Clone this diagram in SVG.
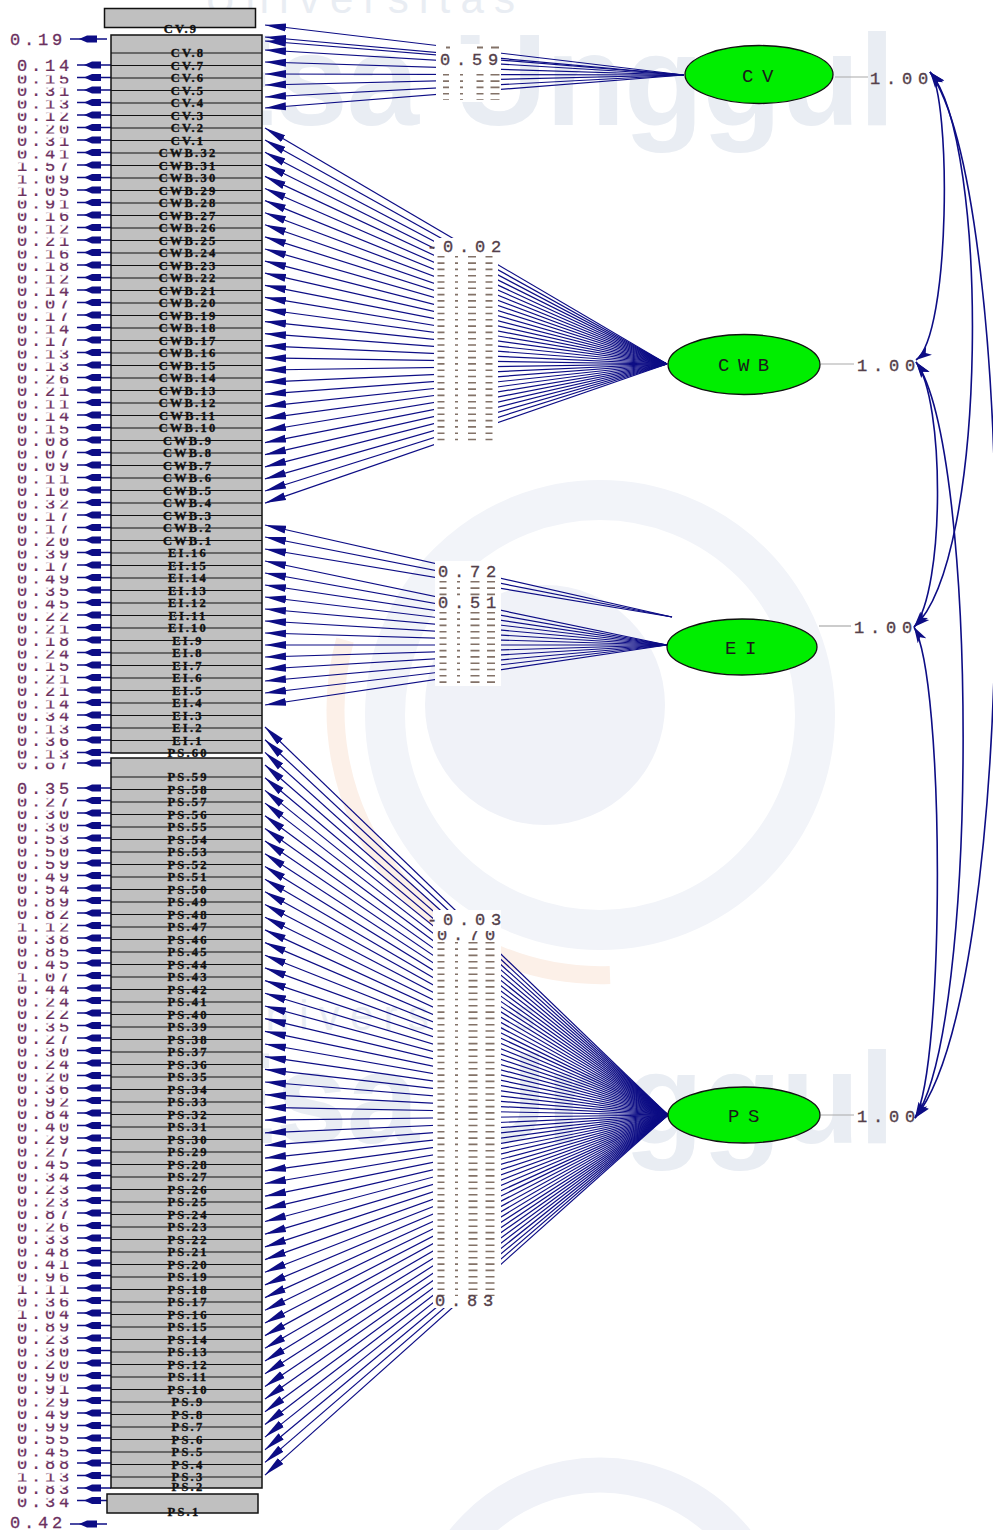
<svg xmlns="http://www.w3.org/2000/svg" xmlns:xlink="http://www.w3.org/1999/xlink" width="993" height="1530" viewBox="0 0 993 1530">
<style>
.ld line{stroke:#0d0d85;stroke-width:1.2;marker-end:url(#ah)}
.arc{fill:none;stroke:#0d0d85;stroke-width:1.6;marker-start:url(#ah2);marker-end:url(#ah2)}
.bx{fill:#c0c0c0;stroke:#111;stroke-width:1.5}
.rl{stroke:#111;stroke-width:1;fill:none}
.bl{font-family:"Liberation Serif",serif;font-weight:bold;font-size:12.5px;letter-spacing:2.2px;fill:#111;stroke:#111;stroke-width:0.35px;text-anchor:middle}
.en{font-family:"Liberation Mono",monospace;font-size:17px;letter-spacing:3.8px;fill:#6b3060;stroke:#6b3060;stroke-width:0.3px}
.lv{font-family:"Liberation Mono",monospace;font-size:17px;letter-spacing:5.8px;fill:#54404a;stroke:#54404a;stroke-width:0.35px}
.lat{fill:#00ee00;stroke:#111;stroke-width:1.3}
.ln{font-family:"Liberation Mono",monospace;font-size:19px;letter-spacing:8.5px;fill:#1a1a1a}
.vl{stroke:#aaa;stroke-width:1.2}
.gap{fill:#fff}
.ds{stroke:#6e5a4e;stroke-dasharray:1.6 4.7;opacity:.85}
.wm{font-family:"Liberation Sans",sans-serif;fill:#e9edf3}
</style>
<defs>
<marker id="ah" markerUnits="userSpaceOnUse" markerWidth="22" markerHeight="10" refX="21" refY="5" orient="auto"><path d="M0,1 L21,5 L0,9 z" fill="#0d0d85"/></marker>
<marker id="ah2" markerUnits="userSpaceOnUse" markerWidth="17" markerHeight="11" refX="16" refY="5.5" orient="auto-start-reverse"><path d="M0,0.5 L16,5.5 L0,10.5 L4,5.5 z" fill="#0d0d85"/></marker>
<g id="e"><path d="M77,0 H111" stroke="#0d0d85" stroke-width="1.3"/><path d="M84,0 L92,-3.5 L101,-3.5 L101,3.5 L92,3.5 z" fill="#0d0d85"/></g>
<g id="e2"><path d="M70,0 H107" stroke="#0d0d85" stroke-width="1.3"/><path d="M79,0 L87,-3.5 L97,-3.5 L97,3.5 L87,3.5 z" fill="#0d0d85"/></g>
<pattern id="band1" patternUnits="userSpaceOnUse" x="0" y="58.5" width="100" height="12.5"><rect x="0" y="0" width="100" height="4.5" fill="#fff"/></pattern>
<pattern id="band2" patternUnits="userSpaceOnUse" x="0" y="781.5" width="100" height="12.5"><rect x="0" y="0" width="100" height="4.5" fill="#fff"/></pattern>
<clipPath id="c70"><rect x="430" y="931" width="75" height="12"/></clipPath>
</defs>
<rect width="993" height="1530" fill="#fff"/>
<g id="watermark">
<circle cx="600" cy="715" r="215" fill="none" stroke="#f2f4f9" stroke-width="40"/>
<circle cx="545" cy="705" r="120" fill="#f0f2f8"/>
<path d="M345,640 A265,265 0 0 0 610,975" fill="none" stroke="#fcf0e8" stroke-width="18"/>
<circle cx="600" cy="1650" r="175" fill="none" stroke="#f0f2f8" stroke-width="35"/>
<text class="wm" x="205" y="13" font-size="42" textLength="310">Universitas</text>
<text class="wm" x="190" y="125" font-size="130" font-weight="bold" textLength="705">Esa Unggul</text>
<text class="wm" x="225" y="1030" font-size="42" textLength="310">Universitas</text>
<text class="wm" x="190" y="1143" font-size="130" font-weight="bold" textLength="705">Esa Unggul</text>
</g>
<g id="connectors">
<g class="ld" id="load-CV">
<line x1="684" y1="75" x2="265" y2="25"/><line x1="684" y1="75" x2="265" y2="37"/><line x1="684" y1="75" x2="265" y2="41"/><line x1="684" y1="75" x2="265" y2="50"/><line x1="684" y1="75" x2="265" y2="62"/><line x1="684" y1="75" x2="265" y2="74"/><line x1="684" y1="75" x2="265" y2="85"/><line x1="684" y1="75" x2="265" y2="97"/><line x1="684" y1="75" x2="265" y2="108"/>
</g>
<g class="ld" id="load-CWB">
<line x1="667" y1="364" x2="265" y2="128"/><line x1="667" y1="364" x2="265" y2="140.1"/><line x1="667" y1="364" x2="265" y2="152.2"/><line x1="667" y1="364" x2="265" y2="164.3"/><line x1="667" y1="364" x2="265" y2="176.4"/><line x1="667" y1="364" x2="265" y2="188.5"/><line x1="667" y1="364" x2="265" y2="200.6"/><line x1="667" y1="364" x2="265" y2="212.7"/><line x1="667" y1="364" x2="265" y2="224.8"/><line x1="667" y1="364" x2="265" y2="236.9"/><line x1="667" y1="364" x2="265" y2="249"/><line x1="667" y1="364" x2="265" y2="261.1"/><line x1="667" y1="364" x2="265" y2="273.2"/><line x1="667" y1="364" x2="265" y2="285.3"/><line x1="667" y1="364" x2="265" y2="297.4"/><line x1="667" y1="364" x2="265" y2="309.5"/><line x1="667" y1="364" x2="265" y2="321.6"/><line x1="667" y1="364" x2="265" y2="333.7"/><line x1="667" y1="364" x2="265" y2="345.8"/><line x1="667" y1="364" x2="265" y2="357.9"/><line x1="667" y1="364" x2="265" y2="370"/><line x1="667" y1="364" x2="265" y2="382.1"/><line x1="667" y1="364" x2="265" y2="394.2"/><line x1="667" y1="364" x2="265" y2="406.3"/><line x1="667" y1="364" x2="265" y2="418.4"/><line x1="667" y1="364" x2="265" y2="430.5"/><line x1="667" y1="364" x2="265" y2="442.6"/><line x1="667" y1="364" x2="265" y2="454.7"/><line x1="667" y1="364" x2="265" y2="466.8"/><line x1="667" y1="364" x2="265" y2="478.9"/><line x1="667" y1="364" x2="265" y2="491"/><line x1="667" y1="364" x2="265" y2="503.1"/>
</g>
<g class="ld" id="load-EI">
<line x1="672" y1="617" x2="265" y2="525"/><line x1="672" y1="617" x2="265" y2="537"/><line x1="672" y1="617" x2="265" y2="549"/><line x1="667" y1="645" x2="265" y2="561"/><line x1="667" y1="645" x2="265" y2="573"/><line x1="667" y1="645" x2="265" y2="585"/><line x1="667" y1="645" x2="265" y2="597"/><line x1="667" y1="645" x2="265" y2="609"/><line x1="667" y1="645" x2="265" y2="621"/><line x1="667" y1="645" x2="265" y2="633"/><line x1="667" y1="645" x2="265" y2="645"/><line x1="667" y1="645" x2="265" y2="657"/><line x1="667" y1="645" x2="265" y2="669"/><line x1="667" y1="645" x2="265" y2="681"/><line x1="667" y1="645" x2="265" y2="693"/><line x1="667" y1="645" x2="265" y2="705"/>
</g>
<g class="ld" id="load-PS">
<line x1="668" y1="1115" x2="265" y2="727"/><line x1="668" y1="1115" x2="265" y2="739.7"/><line x1="668" y1="1115" x2="265" y2="752.4"/><line x1="668" y1="1115" x2="265" y2="765"/><line x1="668" y1="1115" x2="265" y2="777.7"/><line x1="668" y1="1115" x2="265" y2="790.4"/><line x1="668" y1="1115" x2="265" y2="803.1"/><line x1="668" y1="1115" x2="265" y2="815.8"/><line x1="668" y1="1115" x2="265" y2="828.4"/><line x1="668" y1="1115" x2="265" y2="841.1"/><line x1="668" y1="1115" x2="265" y2="853.8"/><line x1="668" y1="1115" x2="265" y2="866.5"/><line x1="668" y1="1115" x2="265" y2="879.2"/><line x1="668" y1="1115" x2="265" y2="891.8"/><line x1="668" y1="1115" x2="265" y2="904.5"/><line x1="668" y1="1115" x2="265" y2="917.2"/><line x1="668" y1="1115" x2="265" y2="929.9"/><line x1="668" y1="1115" x2="265" y2="942.6"/><line x1="668" y1="1115" x2="265" y2="955.2"/><line x1="668" y1="1115" x2="265" y2="967.9"/><line x1="668" y1="1115" x2="265" y2="980.6"/><line x1="668" y1="1115" x2="265" y2="993.3"/><line x1="668" y1="1115" x2="265" y2="1006"/><line x1="668" y1="1115" x2="265" y2="1018.6"/><line x1="668" y1="1115" x2="265" y2="1031.3"/><line x1="668" y1="1115" x2="265" y2="1044"/><line x1="668" y1="1115" x2="265" y2="1056.7"/><line x1="668" y1="1115" x2="265" y2="1069.4"/><line x1="668" y1="1115" x2="265" y2="1082"/><line x1="668" y1="1115" x2="265" y2="1094.7"/><line x1="668" y1="1115" x2="265" y2="1107.4"/><line x1="668" y1="1115" x2="265" y2="1120.1"/><line x1="668" y1="1115" x2="265" y2="1132.8"/><line x1="668" y1="1115" x2="265" y2="1145.4"/><line x1="668" y1="1115" x2="265" y2="1158.1"/><line x1="668" y1="1115" x2="265" y2="1170.8"/><line x1="668" y1="1115" x2="265" y2="1183.5"/><line x1="668" y1="1115" x2="265" y2="1196.2"/><line x1="668" y1="1115" x2="265" y2="1208.8"/><line x1="668" y1="1115" x2="265" y2="1221.5"/><line x1="668" y1="1115" x2="265" y2="1234.2"/><line x1="668" y1="1115" x2="265" y2="1246.9"/><line x1="668" y1="1115" x2="265" y2="1259.6"/><line x1="668" y1="1115" x2="265" y2="1272.2"/><line x1="668" y1="1115" x2="265" y2="1284.9"/><line x1="668" y1="1115" x2="265" y2="1297.6"/><line x1="668" y1="1115" x2="265" y2="1310.3"/><line x1="668" y1="1115" x2="265" y2="1323"/><line x1="668" y1="1115" x2="265" y2="1335.6"/><line x1="668" y1="1115" x2="265" y2="1348.3"/><line x1="668" y1="1115" x2="265" y2="1361"/><line x1="668" y1="1115" x2="265" y2="1373.7"/><line x1="668" y1="1115" x2="265" y2="1386.4"/><line x1="668" y1="1115" x2="265" y2="1399"/><line x1="668" y1="1115" x2="265" y2="1411.7"/><line x1="668" y1="1115" x2="265" y2="1424.4"/><line x1="668" y1="1115" x2="265" y2="1437.1"/><line x1="668" y1="1115" x2="265" y2="1449.8"/><line x1="668" y1="1115" x2="265" y2="1462.4"/><line x1="668" y1="1115" x2="265" y2="1475.1"/>
</g>
<g id="covariances">
<path class="arc" d="M930,72 C951,95 951,335 916,360"/>
<path class="arc" d="M930,72 C989,140 989,560 914,627"/>
<path class="arc" d="M930,72 C1020,200 1020,990 915,1118"/>
<path class="arc" d="M916,362 C945,400 945,590 914,627"/>
<path class="arc" d="M916,362 C979,450 979,1030 915,1118"/>
<path class="arc" d="M914,627 C945,680 945,1065 915,1118"/>
</g>
<g id="variance-lines">
<line class="vl" x1="835" y1="77" x2="868" y2="77"/>
<line class="vl" x1="821" y1="364" x2="854" y2="364"/>
<line class="vl" x1="819" y1="626" x2="851" y2="626"/>
<line class="vl" x1="821" y1="1115" x2="854" y2="1115"/>
</g>
<g id="error-arrows">
<use href="#e2" y="39"/>
<use href="#e" y="65"/><use href="#e" y="77.5"/><use href="#e" y="90"/><use href="#e" y="102.5"/><use href="#e" y="115"/><use href="#e" y="127.5"/><use href="#e" y="140"/><use href="#e" y="152.5"/><use href="#e" y="165"/><use href="#e" y="177.5"/><use href="#e" y="190"/><use href="#e" y="202.5"/><use href="#e" y="215"/><use href="#e" y="227.5"/><use href="#e" y="240"/><use href="#e" y="252.5"/><use href="#e" y="265"/><use href="#e" y="277.5"/><use href="#e" y="290"/><use href="#e" y="302.5"/><use href="#e" y="315"/><use href="#e" y="327.5"/><use href="#e" y="340"/><use href="#e" y="352.5"/><use href="#e" y="365"/><use href="#e" y="377.5"/><use href="#e" y="390"/><use href="#e" y="402.5"/><use href="#e" y="415"/><use href="#e" y="427.5"/><use href="#e" y="440"/><use href="#e" y="452.5"/><use href="#e" y="465"/><use href="#e" y="477.5"/><use href="#e" y="490"/><use href="#e" y="502.5"/><use href="#e" y="515"/><use href="#e" y="527.5"/><use href="#e" y="540"/><use href="#e" y="552.5"/><use href="#e" y="565"/><use href="#e" y="577.5"/><use href="#e" y="590"/><use href="#e" y="602.5"/><use href="#e" y="615"/><use href="#e" y="627.5"/><use href="#e" y="640"/><use href="#e" y="652.5"/><use href="#e" y="665"/><use href="#e" y="677.5"/><use href="#e" y="690"/><use href="#e" y="702.5"/><use href="#e" y="715"/><use href="#e" y="727.5"/><use href="#e" y="740"/><use href="#e" y="752.5"/>
<use href="#e" y="763"/>
<use href="#e" y="788"/><use href="#e" y="800.5"/><use href="#e" y="813"/><use href="#e" y="825.5"/><use href="#e" y="838"/><use href="#e" y="850.5"/><use href="#e" y="863"/><use href="#e" y="875.5"/><use href="#e" y="888"/><use href="#e" y="900.5"/><use href="#e" y="913"/><use href="#e" y="925.5"/><use href="#e" y="938"/><use href="#e" y="950.5"/><use href="#e" y="963"/><use href="#e" y="975.5"/><use href="#e" y="988"/><use href="#e" y="1000.5"/><use href="#e" y="1013"/><use href="#e" y="1025.5"/><use href="#e" y="1038"/><use href="#e" y="1050.5"/><use href="#e" y="1063"/><use href="#e" y="1075.5"/><use href="#e" y="1088"/><use href="#e" y="1100.5"/><use href="#e" y="1113"/><use href="#e" y="1125.5"/><use href="#e" y="1138"/><use href="#e" y="1150.5"/><use href="#e" y="1163"/><use href="#e" y="1175.5"/><use href="#e" y="1188"/><use href="#e" y="1200.5"/><use href="#e" y="1213"/><use href="#e" y="1225.5"/><use href="#e" y="1238"/><use href="#e" y="1250.5"/><use href="#e" y="1263"/><use href="#e" y="1275.5"/><use href="#e" y="1288"/><use href="#e" y="1300.5"/><use href="#e" y="1313"/><use href="#e" y="1325.5"/><use href="#e" y="1338"/><use href="#e" y="1350.5"/><use href="#e" y="1363"/><use href="#e" y="1375.5"/><use href="#e" y="1388"/><use href="#e" y="1400.5"/><use href="#e" y="1413"/><use href="#e" y="1425.5"/><use href="#e" y="1438"/><use href="#e" y="1450.5"/><use href="#e" y="1463"/><use href="#e" y="1475.5"/><use href="#e" y="1488"/><use href="#e" y="1500.5"/>
<use href="#e2" y="1524"/>
</g>
</g>
<g id="loading-labels">
<rect class="gap" x="436" y="44" width="65" height="58"/>
<rect class="gap" x="434" y="238" width="64" height="210"/>
<rect class="gap" x="435" y="561" width="66" height="125"/>
<rect class="gap" x="433" y="910" width="68" height="398"/>
<g class="ds">
<line x1="448" y1="46.5" x2="448" y2="48.5" stroke-width="4" stroke-dasharray="none"/><line x1="480" y1="46.5" x2="480" y2="48.5" stroke-width="6" stroke-dasharray="none"/><line x1="495" y1="46.5" x2="495" y2="48.5" stroke-width="8" stroke-dasharray="none"/>
<line x1="446" y1="74" x2="446" y2="100" stroke-width="6"/><line x1="461.5" y1="74" x2="461.5" y2="100" stroke-width="3"/><line x1="480" y1="74" x2="480" y2="100" stroke-width="7"/><line x1="495" y1="74" x2="495" y2="100" stroke-width="9"/>
<line x1="441" y1="256" x2="441" y2="445" stroke-width="7"/><line x1="456.5" y1="256" x2="456.5" y2="445" stroke-width="3"/><line x1="472" y1="256" x2="472" y2="445" stroke-width="8"/><line x1="489" y1="256" x2="489" y2="445" stroke-width="7"/>
<line x1="443" y1="581" x2="443" y2="598" stroke-width="7"/><line x1="458.5" y1="581" x2="458.5" y2="598" stroke-width="3"/><line x1="475" y1="581" x2="475" y2="598" stroke-width="9"/><line x1="491" y1="581" x2="491" y2="598" stroke-width="8"/>
<line x1="443" y1="612" x2="443" y2="685" stroke-width="7"/><line x1="458.5" y1="612" x2="458.5" y2="685" stroke-width="3"/><line x1="475" y1="612" x2="475" y2="685" stroke-width="9"/><line x1="491" y1="612" x2="491" y2="685" stroke-width="8"/>
<line x1="441" y1="942" x2="441" y2="1296" stroke-width="7"/><line x1="456.5" y1="942" x2="456.5" y2="1296" stroke-width="3"/><line x1="473" y1="942" x2="473" y2="1296" stroke-width="9"/><line x1="490" y1="942" x2="490" y2="1296" stroke-width="9"/>
</g>
<text class="lv" x="440" y="65">0.59</text>
<text class="lv" x="427" y="252">-0.02</text>
<text class="lv" x="438" y="577">0.72</text>
<text class="lv" x="438" y="608">0.51</text>
<text class="lv" x="427" y="925">-0.03</text>
<text class="lv" x="437" y="940" clip-path="url(#c70)">0.70</text>
<text class="lv" x="435" y="1306">0.83</text>
</g>
<g id="box-CV9">
<rect class="bx" x="104.5" y="8.5" width="151" height="19"/>
<text class="bl" x="181" y="33">CV.9</text>
</g>
<g id="box-main1">
<rect class="bx" x="111" y="35" width="151" height="718"/>
<path class="rl" d="M111,53H262M111,65.5H262M111,78H262M111,90.5H262M111,103H262M111,115.5H262M111,128H262M111,140.5H262M111,153H262M111,165.5H262M111,178H262M111,190.5H262M111,203H262M111,215.5H262M111,228H262M111,240.5H262M111,253H262M111,265.5H262M111,278H262M111,290.5H262M111,303H262M111,315.5H262M111,328H262M111,340.5H262M111,353H262M111,365.5H262M111,378H262M111,390.5H262M111,403H262M111,415.5H262M111,428H262M111,440.5H262M111,453H262M111,465.5H262M111,478H262M111,490.5H262M111,503H262M111,515.5H262M111,528H262M111,540.5H262M111,553H262M111,565.5H262M111,578H262M111,590.5H262M111,603H262M111,615.5H262M111,628H262M111,640.5H262M111,653H262M111,665.5H262M111,678H262M111,690.5H262M111,703H262M111,715.5H262M111,728H262M111,740.5H262"/>
<text class="bl" x="188" y="57">CV.8</text><text class="bl" x="188" y="69.5">CV.7</text><text class="bl" x="188" y="82">CV.6</text><text class="bl" x="188" y="94.5">CV.5</text><text class="bl" x="188" y="107">CV.4</text><text class="bl" x="188" y="119.5">CV.3</text><text class="bl" x="188" y="132">CV.2</text><text class="bl" x="188" y="144.5">CV.1</text>
<text class="bl" x="188" y="157">CWB.32</text><text class="bl" x="188" y="169.5">CWB.31</text><text class="bl" x="188" y="182">CWB.30</text><text class="bl" x="188" y="194.5">CWB.29</text><text class="bl" x="188" y="207">CWB.28</text><text class="bl" x="188" y="219.5">CWB.27</text><text class="bl" x="188" y="232">CWB.26</text><text class="bl" x="188" y="244.5">CWB.25</text><text class="bl" x="188" y="257">CWB.24</text><text class="bl" x="188" y="269.5">CWB.23</text><text class="bl" x="188" y="282">CWB.22</text><text class="bl" x="188" y="294.5">CWB.21</text><text class="bl" x="188" y="307">CWB.20</text><text class="bl" x="188" y="319.5">CWB.19</text><text class="bl" x="188" y="332">CWB.18</text><text class="bl" x="188" y="344.5">CWB.17</text><text class="bl" x="188" y="357">CWB.16</text><text class="bl" x="188" y="369.5">CWB.15</text><text class="bl" x="188" y="382">CWB.14</text><text class="bl" x="188" y="394.5">CWB.13</text><text class="bl" x="188" y="407">CWB.12</text><text class="bl" x="188" y="419.5">CWB.11</text><text class="bl" x="188" y="432">CWB.10</text><text class="bl" x="188" y="444.5">CWB.9</text><text class="bl" x="188" y="457">CWB.8</text><text class="bl" x="188" y="469.5">CWB.7</text><text class="bl" x="188" y="482">CWB.6</text><text class="bl" x="188" y="494.5">CWB.5</text><text class="bl" x="188" y="507">CWB.4</text><text class="bl" x="188" y="519.5">CWB.3</text><text class="bl" x="188" y="532">CWB.2</text><text class="bl" x="188" y="544.5">CWB.1</text>
<text class="bl" x="188" y="557">EI.16</text><text class="bl" x="188" y="569.5">EI.15</text><text class="bl" x="188" y="582">EI.14</text><text class="bl" x="188" y="594.5">EI.13</text><text class="bl" x="188" y="607">EI.12</text><text class="bl" x="188" y="619.5">EI.11</text><text class="bl" x="188" y="632">EI.10</text><text class="bl" x="188" y="644.5">EI.9</text><text class="bl" x="188" y="657">EI.8</text><text class="bl" x="188" y="669.5">EI.7</text><text class="bl" x="188" y="682">EI.6</text><text class="bl" x="188" y="694.5">EI.5</text><text class="bl" x="188" y="707">EI.4</text><text class="bl" x="188" y="719.5">EI.3</text><text class="bl" x="188" y="732">EI.2</text><text class="bl" x="188" y="744.5">EI.1</text>
<text class="bl" x="188" y="757">PS.60</text>
</g>
<g id="box-main2">
<rect class="bx" x="111" y="758" width="151" height="730"/>
<path class="rl" d="M111,777H262M111,789.5H262M111,802H262M111,814.5H262M111,827H262M111,839.5H262M111,852H262M111,864.5H262M111,877H262M111,889.5H262M111,902H262M111,914.5H262M111,927H262M111,939.5H262M111,952H262M111,964.5H262M111,977H262M111,989.5H262M111,1002H262M111,1014.5H262M111,1027H262M111,1039.5H262M111,1052H262M111,1064.5H262M111,1077H262M111,1089.5H262M111,1102H262M111,1114.5H262M111,1127H262M111,1139.5H262M111,1152H262M111,1164.5H262M111,1177H262M111,1189.5H262M111,1202H262M111,1214.5H262M111,1227H262M111,1239.5H262M111,1252H262M111,1264.5H262M111,1277H262M111,1289.5H262M111,1302H262M111,1314.5H262M111,1327H262M111,1339.5H262M111,1352H262M111,1364.5H262M111,1377H262M111,1389.5H262M111,1402H262M111,1414.5H262M111,1427H262M111,1439.5H262M111,1452H262M111,1464.5H262M111,1477H262"/>
<text class="bl" x="188" y="781">PS.59</text><text class="bl" x="188" y="793.5">PS.58</text><text class="bl" x="188" y="806">PS.57</text><text class="bl" x="188" y="818.5">PS.56</text><text class="bl" x="188" y="831">PS.55</text><text class="bl" x="188" y="843.5">PS.54</text><text class="bl" x="188" y="856">PS.53</text><text class="bl" x="188" y="868.5">PS.52</text><text class="bl" x="188" y="881">PS.51</text><text class="bl" x="188" y="893.5">PS.50</text><text class="bl" x="188" y="906">PS.49</text><text class="bl" x="188" y="918.5">PS.48</text><text class="bl" x="188" y="931">PS.47</text><text class="bl" x="188" y="943.5">PS.46</text><text class="bl" x="188" y="956">PS.45</text><text class="bl" x="188" y="968.5">PS.44</text><text class="bl" x="188" y="981">PS.43</text><text class="bl" x="188" y="993.5">PS.42</text><text class="bl" x="188" y="1006">PS.41</text><text class="bl" x="188" y="1018.5">PS.40</text><text class="bl" x="188" y="1031">PS.39</text><text class="bl" x="188" y="1043.5">PS.38</text><text class="bl" x="188" y="1056">PS.37</text><text class="bl" x="188" y="1068.5">PS.36</text><text class="bl" x="188" y="1081">PS.35</text><text class="bl" x="188" y="1093.5">PS.34</text><text class="bl" x="188" y="1106">PS.33</text><text class="bl" x="188" y="1118.5">PS.32</text><text class="bl" x="188" y="1131">PS.31</text><text class="bl" x="188" y="1143.5">PS.30</text><text class="bl" x="188" y="1156">PS.29</text><text class="bl" x="188" y="1168.5">PS.28</text><text class="bl" x="188" y="1181">PS.27</text><text class="bl" x="188" y="1193.5">PS.26</text><text class="bl" x="188" y="1206">PS.25</text><text class="bl" x="188" y="1218.5">PS.24</text><text class="bl" x="188" y="1231">PS.23</text><text class="bl" x="188" y="1243.5">PS.22</text><text class="bl" x="188" y="1256">PS.21</text><text class="bl" x="188" y="1268.5">PS.20</text><text class="bl" x="188" y="1281">PS.19</text><text class="bl" x="188" y="1293.5">PS.18</text><text class="bl" x="188" y="1306">PS.17</text><text class="bl" x="188" y="1318.5">PS.16</text><text class="bl" x="188" y="1331">PS.15</text><text class="bl" x="188" y="1343.5">PS.14</text><text class="bl" x="188" y="1356">PS.13</text><text class="bl" x="188" y="1368.5">PS.12</text><text class="bl" x="188" y="1381">PS.11</text><text class="bl" x="188" y="1393.5">PS.10</text><text class="bl" x="188" y="1406">PS.9</text><text class="bl" x="188" y="1418.5">PS.8</text><text class="bl" x="188" y="1431">PS.7</text><text class="bl" x="188" y="1443.5">PS.6</text><text class="bl" x="188" y="1456">PS.5</text><text class="bl" x="188" y="1468.5">PS.4</text><text class="bl" x="188" y="1481">PS.3</text><text class="bl" x="188" y="1491">PS.2</text>
</g>
<g id="box-PS1">
<rect class="bx" x="107" y="1494" width="151" height="19"/>
<text class="bl" x="184" y="1516">PS.1</text>
</g>
<g id="error-values">
<text class="en" x="10" y="45">0.19</text>
<text class="en" x="17" y="71">0.14</text><text class="en" x="17" y="83.5">0.15</text><text class="en" x="17" y="96">0.31</text><text class="en" x="17" y="108.5">0.13</text><text class="en" x="17" y="121">0.12</text><text class="en" x="17" y="133.5">0.20</text><text class="en" x="17" y="146">0.31</text><text class="en" x="17" y="158.5">0.41</text><text class="en" x="17" y="171">1.57</text><text class="en" x="17" y="183.5">1.09</text><text class="en" x="17" y="196">1.05</text><text class="en" x="17" y="208.5">0.91</text><text class="en" x="17" y="221">0.16</text><text class="en" x="17" y="233.5">0.12</text><text class="en" x="17" y="246">0.21</text><text class="en" x="17" y="258.5">0.16</text><text class="en" x="17" y="271">0.18</text><text class="en" x="17" y="283.5">0.12</text><text class="en" x="17" y="296">0.14</text><text class="en" x="17" y="308.5">0.07</text><text class="en" x="17" y="321">0.17</text><text class="en" x="17" y="333.5">0.14</text><text class="en" x="17" y="346">0.17</text><text class="en" x="17" y="358.5">0.13</text><text class="en" x="17" y="371">0.13</text><text class="en" x="17" y="383.5">0.26</text><text class="en" x="17" y="396">0.21</text><text class="en" x="17" y="408.5">0.11</text><text class="en" x="17" y="421">0.14</text><text class="en" x="17" y="433.5">0.15</text><text class="en" x="17" y="446">0.08</text><text class="en" x="17" y="458.5">0.07</text><text class="en" x="17" y="471">0.09</text><text class="en" x="17" y="483.5">0.11</text><text class="en" x="17" y="496">0.10</text><text class="en" x="17" y="508.5">0.32</text><text class="en" x="17" y="521">0.17</text><text class="en" x="17" y="533.5">0.17</text><text class="en" x="17" y="546">0.20</text><text class="en" x="17" y="558.5">0.39</text><text class="en" x="17" y="571">0.17</text><text class="en" x="17" y="583.5">0.49</text><text class="en" x="17" y="596">0.35</text><text class="en" x="17" y="608.5">0.45</text><text class="en" x="17" y="621">0.22</text><text class="en" x="17" y="633.5">0.21</text><text class="en" x="17" y="646">0.18</text><text class="en" x="17" y="658.5">0.24</text><text class="en" x="17" y="671">0.15</text><text class="en" x="17" y="683.5">0.21</text><text class="en" x="17" y="696">0.21</text><text class="en" x="17" y="708.5">0.14</text><text class="en" x="17" y="721">0.34</text><text class="en" x="17" y="733.5">0.13</text><text class="en" x="17" y="746">0.36</text><text class="en" x="17" y="758.5">0.13</text>
<text class="en" x="17" y="769">0.87</text>
<text class="en" x="17" y="794">0.35</text><text class="en" x="17" y="806.5">0.27</text><text class="en" x="17" y="819">0.30</text><text class="en" x="17" y="831.5">0.30</text><text class="en" x="17" y="844">0.53</text><text class="en" x="17" y="856.5">0.50</text><text class="en" x="17" y="869">0.59</text><text class="en" x="17" y="881.5">0.49</text><text class="en" x="17" y="894">0.54</text><text class="en" x="17" y="906.5">0.89</text><text class="en" x="17" y="919">0.82</text><text class="en" x="17" y="931.5">1.12</text><text class="en" x="17" y="944">0.38</text><text class="en" x="17" y="956.5">0.85</text><text class="en" x="17" y="969">0.45</text><text class="en" x="17" y="981.5">1.07</text><text class="en" x="17" y="994">0.44</text><text class="en" x="17" y="1006.5">0.24</text><text class="en" x="17" y="1019">0.22</text><text class="en" x="17" y="1031.5">0.35</text><text class="en" x="17" y="1044">0.27</text><text class="en" x="17" y="1056.5">0.30</text><text class="en" x="17" y="1069">0.24</text><text class="en" x="17" y="1081.5">0.20</text><text class="en" x="17" y="1094">0.36</text><text class="en" x="17" y="1106.5">0.92</text><text class="en" x="17" y="1119">0.84</text><text class="en" x="17" y="1131.5">0.40</text><text class="en" x="17" y="1144">0.29</text><text class="en" x="17" y="1156.5">0.27</text><text class="en" x="17" y="1169">0.45</text><text class="en" x="17" y="1181.5">0.34</text><text class="en" x="17" y="1194">0.23</text><text class="en" x="17" y="1206.5">0.23</text><text class="en" x="17" y="1219">0.87</text><text class="en" x="17" y="1231.5">0.26</text><text class="en" x="17" y="1244">0.33</text><text class="en" x="17" y="1256.5">0.48</text><text class="en" x="17" y="1269">0.41</text><text class="en" x="17" y="1281.5">0.96</text><text class="en" x="17" y="1294">1.11</text><text class="en" x="17" y="1306.5">0.36</text><text class="en" x="17" y="1319">1.04</text><text class="en" x="17" y="1331.5">0.89</text><text class="en" x="17" y="1344">0.23</text><text class="en" x="17" y="1356.5">0.30</text><text class="en" x="17" y="1369">0.20</text><text class="en" x="17" y="1381.5">0.90</text><text class="en" x="17" y="1394">0.91</text><text class="en" x="17" y="1406.5">0.29</text><text class="en" x="17" y="1419">0.49</text><text class="en" x="17" y="1431.5">0.99</text><text class="en" x="17" y="1444">0.55</text><text class="en" x="17" y="1456.5">0.45</text><text class="en" x="17" y="1469">0.88</text><text class="en" x="17" y="1481.5">1.13</text><text class="en" x="17" y="1494">0.83</text><text class="en" x="17" y="1506.5">0.34</text>
<text class="en" x="10" y="1528">0.42</text>
<rect x="8" y="70" width="68" height="696" fill="url(#band1)"/>
<rect x="8" y="793" width="68" height="712" fill="url(#band2)"/>
</g>
<g id="CV">
<ellipse class="lat" cx="759" cy="74.5" rx="74" ry="29"/>
<text class="ln" x="742" y="81.5">CV</text>
<text class="lv" x="870" y="84">1.00</text>
</g>
<g id="CWB">
<ellipse class="lat" cx="744" cy="364.5" rx="76" ry="30"/>
<text class="ln" x="718" y="371">CWB</text>
<text class="lv" x="857" y="371">1.00</text>
</g>
<g id="EI">
<ellipse class="lat" cx="742" cy="647" rx="75" ry="28"/>
<text class="ln" x="725" y="654">EI</text>
<text class="lv" x="854" y="633">1.00</text>
</g>
<g id="PS">
<ellipse class="lat" cx="744" cy="1115" rx="76" ry="28"/>
<text class="ln" x="728" y="1121.5">PS</text>
<text class="lv" x="857" y="1122">1.00</text>
</g>
</svg>
